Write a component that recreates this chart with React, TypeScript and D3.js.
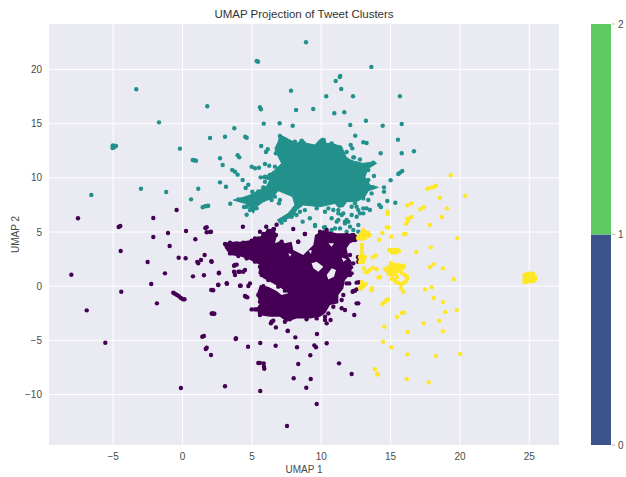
import React from "react";
import * as d3 from "d3";

const xDomain = [-9.63, 27.14];
const yDomain = [-14.66, 24.21];
const xTicks = [-5, 0, 5, 10, 15, 20, 25];
const yTicks = [-10, -5, 0, 5, 10, 15, 20];
const cbarTicks = [0, 1, 2];
const cbarColors = ["#3b528b", "#5ec962"];
const clusterColors = ["#440154", "#21918c", "#fde725"];

type P = [number, number];

// Outline of the solid core of cluster 1
const tealCore: P[] = [[5.58,10.05],[6.18,10.27],[6.66,10.73],[7.14,11.34],[6.78,12.27],[6.66,12.73],[6.9,13.35],[7.02,13.96],[7.38,13.75],[7.74,13.5],[8.22,13.19],[8.7,13.5],[8.94,13.19],[9.54,13.04],[9.91,13.56],[10.27,13.65],[10.34,13.19],[10.75,13.19],[11.11,13.04],[11.47,12.88],[11.83,11.81],[12.43,11.5],[13.03,11.34],[13.87,11.5],[13.99,11.34],[13.39,10.88],[13.15,10.11],[13.51,9.34],[14.11,9.13],[13.39,8.82],[13.15,8.27],[12.55,7.81],[11.83,7.81],[11.59,7.34],[11.23,7.28],[10.99,7.65],[9.91,7.34],[8.7,7.5],[8.22,7.04],[7.98,6.42],[7.26,6.11],[6.83,6.11],[7.62,6.73],[8.1,7.5],[7.93,8.27],[7.38,8.57],[6.9,8.82],[6.42,8.11],[5.82,7.81],[5.34,7.34],[5.1,6.73],[4.86,7.19],[4.5,7.65],[3.66,7.96],[4.38,8.21],[4.86,8.42],[5.58,8.88],[6.06,9.25],[6.3,9.81]];

// Outline and gaps of the solid core of cluster 0
const purpleCore: P[] = [[2.94,3.96],[3.42,4.11],[4.14,4.11],[4.98,4.27],[5.34,4.42],[5.58,4.57],[5.94,5.04],[6.42,5.34],[6.66,5.19],[6.78,4.57],[6.66,3.96],[7.14,4.21],[7.38,3.96],[7.86,4.11],[7.98,3.34],[8.7,2.88],[9.19,3.5],[9.43,3.8],[9.55,4.73],[10.15,5.19],[11.11,4.88],[11.83,4.88],[12.55,4.73],[12.67,4.27],[12.07,3.96],[11.83,3.5],[11.95,2.73],[12.19,2.26],[12.19,1.5],[12.07,1.03],[11.71,0.57],[11.59,-0.2],[11.23,-0.81],[11.23,-1.58],[10.63,-1.74],[10.27,-2.51],[9.91,-2.81],[9.19,-2.97],[8.22,-2.97],[7.5,-3.28],[7.02,-2.81],[6.3,-2.81],[5.46,-2.66],[5.34,-2.04],[5.58,-1.58],[5.34,-0.81],[5.58,0.11],[6.18,-0.04],[6.78,-0.44],[7.14,-0.81],[7.62,-0.66],[7.14,-0.2],[6.54,0.26],[5.82,0.73],[5.46,1.19],[5.58,1.96],[4.86,2.42],[4.26,2.73],[3.42,2.88],[3.06,3.5]];
const purpleGaps: P[][] = [
  [[9.3,2.11],[9.67,2.27],[10.15,1.8],[9.79,1.34],[9.43,1.65]],
  [[10.39,1.03],[10.75,1.65],[11.06,1.5],[10.92,0.88],[10.51,0.63]],
  [[9.07,3.28],[9.31,3.34],[9.26,2.97]],
  [[10.51,3.96],[10.92,3.96],[10.75,3.65]],
  [[11.47,2.66],[11.83,2.48],[11.59,2.26]],
  [[7.62,3.03],[7.86,2.97],[7.74,2.73]],
];

const tealEdge: P[] = [[7.02,13.87],[7.21,13.5],[7.02,13.04],[6.83,12.58],[6.73,12.27],[7.14,11.96],[7.55,13.35],[7.74,13.19],[8.1,13.35],[8.58,13.44],[8.46,12.88],[9.79,13.04],[10.1,13.5],[10.19,13.04],[9.95,12.64],[10.75,13.19],[10.87,12.73],[10.51,12.27],[11.35,12.82],[11.54,12.27],[11.11,12.11],[11.95,11.5],[12.55,11.34],[13.15,11.19],[13.75,11.41],[13.39,10.73],[12.79,11.71],[11.83,11.71],[12.31,11.9],[5.63,10.05],[5.94,10.11],[6.3,10.27],[6.66,11.04],[5.94,9.65],[6.3,9.34],[5.82,9.13],[6.18,8.42],[5.82,7.96],[5.22,7.65],[4.86,7.04],[4.62,7.34],[4.14,7.96],[4.02,8.02],[4.98,8.27],[5.34,8.27],[5.58,8.42],[6.66,8.27],[6.95,7.65],[6.42,7.96],[7.02,7.96],[13.39,9.81],[13.75,9.13],[13.27,8.88],[13.63,8.57],[13.03,8.11],[12.43,7.65],[13.39,7.96],[12.55,7.34],[11.23,7.03],[11.59,6.73],[12.19,7.34],[12.67,7.03],[13.27,7.19],[13.03,6.73],[11.23,6.11],[11.83,6.11],[8.46,6.88],[8.22,6.57],[7.86,6.42],[7.38,6.11],[7.02,6.05],[8.82,7.03],[9.67,7.19],[10.27,6.88],[10.51,7.19]];

const purpleEdge: P[] = [[3.06,3.9],[3.42,4.02],[3.9,3.96],[4.38,4.02],[4.98,4.2],[5.46,4.42],[5.82,4.82],[6.18,5.13],[6.54,5.25],[6.73,4.73],[7.14,4.11],[8.34,4.11],[8.82,4.82],[9.91,5.03],[10.39,5.19],[11.83,4.73],[12.31,4.73],[12.43,4.27],[3.42,3.03],[4.02,2.79],[4.62,2.57],[5.22,2.27],[5.58,1.8],[5.7,1.03],[6.18,0.57],[6.9,-0.04],[7.38,-0.41],[5.82,0],[5.46,-0.81],[5.58,-1.43],[5.34,-2.14],[5.58,-2.66],[6.42,-3.28],[7.38,-3.28],[7.74,-3.06],[8.94,-3.06],[9.67,-2.97],[10.27,-2.81],[10.51,-2.51],[10.87,-1.89],[11.47,-1.27],[11.59,-0.81],[11.83,0.26],[12.19,1.19],[12.31,2.11],[12.07,2.88]];

const tealPoints: P[] = [[-3.34,18.18],[-1.7,15.13],[1.78,16.61],[1.98,13.68],[-0.19,12.7],[-5.04,12.95],[-4.95,12.81],[-4.84,12.95],[-5.02,12.99],[-5.05,12.76],[-4.8,12.95],[0.73,11.65],[0.84,11.63],[0.97,11.59],[2.7,11.81],[-6.58,8.42],[-3,9],[-1.18,8.7],[1.13,9],[2.7,9.59],[0.61,8.02],[1.45,7.29],[1.62,7.38],[1.76,7.41],[1.85,7.43],[5.58,16.52],[5.65,16.34],[8.18,16.27],[9.42,16.36],[10.94,15.97],[11.66,16.06],[5.85,15.01],[7,15.04],[7.94,14.82],[12.09,14.89],[13.22,15.28],[14.43,14.82],[15.8,14.98],[3.73,14.58],[3.06,13.8],[4.52,13.8],[4.62,13.71],[12.45,13.9],[15.53,13.53],[13.03,13.29],[13.27,13.22],[12.12,13.04],[12.24,12.73],[11.83,12.39],[14.28,12.27],[15.8,12.27],[16.68,12.46],[5.67,12.95],[6.14,12.64],[6.01,12.39],[3.97,12.09],[4.09,11.9],[2.89,11.19],[12.36,11.9],[4.98,11.03],[5.22,10.89],[5.51,10.94],[5.94,11.28],[6.25,11.13],[3.58,10.73],[3.78,10.57],[3.97,10.3],[4.33,9.81],[3.13,9.19],[4.74,9.37],[4.55,9.07],[5.46,8.76],[5.03,8.73],[13.8,10.18],[15.67,10.48],[15.84,10.64],[15.55,10.36],[15,9.78],[14.52,9.13],[14.52,8.73],[15.34,7.71],[14.76,7.87],[14.18,7.5],[14.3,7.31],[3.44,7.62],[4.43,7.31],[4.62,6.6],[4.86,7.8],[5.1,7.5],[5.34,7.19],[8.9,22.52],[5.34,20.8],[5.44,20.73],[13.61,20.24],[11.37,19.41],[11.33,19.32],[11.04,18.95],[11.44,18.21],[7.82,18.05],[10.36,17.54],[12.29,17.54],[15.67,17.54],[9.18,6.27],[9.55,5.65],[10.19,5.43],[10.87,7.04],[10.75,6.27],[11.11,5.96],[11.47,6.57],[11.71,5.8],[12.19,6.57],[12.55,6.42],[12.79,6.73],[13.03,7.19],[13.51,7.04],[12.07,5.5],[11.35,5.34],[10.99,5.34],[12.67,5.65],[11.95,5.96],[11.23,6.73],[7.14,5.87],[8.66,5.96],[9.55,5.56],[10.27,5.44],[10.75,5.19],[12.31,5.19],[12.67,5.04],[11.83,5.04],[11.71,5.96]];

const purplePoints: P[] = [[-8.02,1.06],[-6.91,-2.23],[-5.57,-5.22],[-4.42,-0.51],[-4.46,3.25],[-2.52,2.23],[-1.27,1.19],[-2.26,0.2],[-1.85,-1.58],[-0.93,3.71],[-0.28,2.63],[0.22,2.58],[1.06,2.25],[1.13,2.11],[1.33,2.42],[1.59,2.88],[2.07,2.3],[0.75,0.91],[1.54,1.01],[2.62,1.19],[2.07,-0.35],[2.21,-0.38],[2.57,0.14],[3.2,0.23],[4.14,0.05],[3.71,1.89],[3.9,1.99],[3.78,1.03],[4.02,1.34],[-0.67,-0.6],[-0.55,-0.69],[-0.4,-0.81],[-0.26,-0.93],[-0.12,-1.09],[0.03,-1.21],[0.14,-1.21],[2.14,-2.54],[2.29,-2.54],[1.42,-4.66],[1.54,-4.6],[1.67,-5.8],[1.74,-5.68],[2.05,-6.35],[3.83,-4.88],[-0.12,-9.4],[3.06,-9.24],[0.92,4.33],[-7.54,6.27],[-4.61,5.47],[-4.49,5.56],[-2.11,6.3],[-0.43,7.04],[-1.05,4.91],[0.25,5.1],[1.64,5.37],[1.74,5.44],[1.74,4.98],[1.98,5],[-2.11,4.54],[4.35,5.49],[6.03,5.49],[6.78,5.68],[6.59,5.28],[7.98,5.28],[2.05,5.03],[5.22,4.42],[5.58,5.03],[8.82,4.82],[8.34,4.11],[2.1,2.26],[2.62,1.25],[2.58,0.11],[3.18,0.27],[4.19,0.05],[2.17,-0.35],[4.86,0.26],[4.74,0.02],[3.78,1.96],[3.71,1.34],[4.14,1.34],[4.38,1.34],[4.5,1.5],[4.57,-0.97],[4.5,-0.9],[4.67,-1.03],[2.22,-2.51],[2.1,-2.51],[4.98,-2.14],[5.22,-2.14],[12.38,-2.66],[12.55,-1.58],[12.67,-1.58],[11.71,-2.2],[11.47,-2.04],[12.31,-0.44],[12.55,-0.29],[12.02,0.26],[12.55,0.33],[12.67,2.67],[12.67,2.26],[6.37,-3.43],[6.54,-3.18],[6.73,-3.8],[7.58,-4.11],[8.13,-4.72],[9.69,-4.41],[10.67,-3.12],[10.39,-3.43],[10.27,-3.12],[3.85,-4.81],[4.72,-5.59],[5.6,-5.24],[6.71,-5.49],[7.58,-4.14],[8.25,-5.64],[9.5,-5.46],[9.62,-5.64],[10.39,-5.27],[9.21,-6.38],[5.46,-7.09],[5.58,-7.09],[5.85,-7.12],[5.87,-7.43],[5.89,-7.62],[8.34,-7.18],[11.28,-7.12],[12.19,-8.11],[8.01,-8.5],[9.24,-8.57],[8.92,-9.37],[5.6,-9.68],[9.67,-10.88],[7.53,-12.91],[12.72,0.36],[12.26,-0.51],[12.43,-0.42],[12.84,-0.17],[12.14,1.75],[12.07,1.03],[12.65,2.67],[12.26,4.48],[12.4,4.6],[12.2,4.7],[12.35,4.3]];

const yellowPoints: P[] = [[19.33,10.24],[17.64,9],[17.91,9.1],[18.13,9.16],[18.27,9.28],[18.56,8.17],[20.38,8.36],[16.2,7.47],[16.49,7.65],[17.14,7.1],[17.38,7.29],[19.06,7.19],[14.79,6.88],[14.79,6.67],[18.68,6.39],[16.49,6.39],[16.2,6.23],[16.27,6.05],[16.11,5.77],[17.82,5.65],[14.72,5.44],[14.85,5.42],[14.4,4.91],[15.96,4.82],[16.07,4.82],[15.05,4.57],[19.81,4.42],[14.18,4.29],[17.89,3.59],[14.9,3.34],[15.1,3.34],[15.31,3.34],[15.53,3.34],[15.1,3.11],[15.39,3.11],[15.6,3.25],[16.85,3.16],[13.92,2.85],[13.71,2.67],[18.08,2.02],[17.84,1.77],[18.77,1.65],[13.06,1.65],[13.71,1.71],[13.99,1.56],[13.32,1.34],[13.2,1.28],[13.46,1.5],[19.55,0.64],[14.25,0.85],[14.12,0.8],[13.66,-0.19],[13.63,-0.35],[17.48,-0.29],[17.96,-0.1],[15.75,-0.19],[15.91,-0.51],[18.1,-1.09],[18.77,-1.46],[14.59,-1.46],[14.4,-1.64],[14.64,-1.34],[14.81,-1.23],[19.76,-2.2],[18.94,-2.38],[15.82,-2.47],[15.96,-2.43],[15.46,-2.84],[18.49,-3.19],[17.38,-3.43],[14.54,-3.74],[16.23,-4.23],[18.77,-4.16],[14.45,-5.12],[15.05,-5.64],[16.2,-6.29],[18.27,-6.45],[20.02,-6.26],[13.87,-7.67],[14.04,-8.11],[14.09,-8.15],[16.16,-8.57],[17.74,-8.87],
[24.65,1.03],[24.65,0.66],[24.65,0.39],[24.83,1.13],[24.83,0.76],[24.83,0.39],[25.05,1.17],[25.05,0.85],[25.05,0.48],[25.27,1.13],[25.27,0.76],[25.27,0.48],[25.41,0.85],[25.41,0.62],
[14.59,1.59],[14.74,1.4],[14.88,1.77],[14.88,1.4],[14.88,1.13],[15.03,2.14],[15.1,1.87],[15.1,1.59],[15.1,1.31],[15.1,1.03],[15.31,1.96],[15.31,1.68],[15.31,1.4],[15.31,1.13],[15.53,1.96],[15.53,1.68],[15.53,1.4],[15.75,1.87],[15.75,1.59],[15.89,1.91],[15.96,1.77],[15.46,0.85],[15.31,0.57],[15.39,0.39],[15.53,0.3],[15.75,0.2],[15.96,0.3],[16.18,0.66],[16.18,0.85],[16.03,1.03],[15.82,1.22],[15.1,0.66],[16.11,0.48],
[12.72,4.64],[12.86,4.82],[12.86,4.54],[13.01,5.19],[13.01,4.91],[13.01,4.64],[13.15,5],[13.15,4.73],[13.15,4.45],[13.37,4.91],[13.37,4.64],[13.51,4.73],[12.65,4.45],[12.86,4.36],[12.93,3.8],[12.93,3.53],
[12.93,3.16],[12.93,2.88],[12.79,2.7],[13.01,2.6],[12.86,2.42],[13.08,2.51],[13.15,2.7],[12.79,2.23],[13.01,2.23],
[12.93,0.39],[12.93,0.11],[13.08,0.02],[13.22,0.2],[12.93,-0.17],[12.79,-0.17]];

const W = 626, H = 477;
const plot = { l: 49, r: 559, t: 24, b: 445 };
const cbar = { l: 591, r: 611, t: 24, b: 445 };
const font = "'Liberation Sans', Arial, sans-serif";
const textColor = "#4a4a4a";

export default function App() {
  const x = d3.scaleLinear().domain(xDomain).range([plot.l, plot.r]);
  const y = d3.scaleLinear().domain(yDomain).range([plot.b, plot.t]);
  const c = d3.scaleLinear().domain([0, 2]).range([cbar.b, cbar.t]);
  const line = d3.line<P>().x(d => x(d[0])).y(d => y(d[1])).curve(d3.curveLinearClosed);
  const purplePath = [purpleCore, ...purpleGaps].map(s => line(s)).join(" ");
  const minus = (v: number) => String(v).replace("-", "\u2212");
  const dots = (pts: P[], fill: string) =>
    pts.map((p, i) => <circle key={i} cx={x(p[0])} cy={y(p[1])} r={2.2} fill={fill} />);

  return (
    <svg width={W} height={H} viewBox={`0 0 ${W} ${H}`}
      style={{ position: "absolute", left: 0, top: 0, background: "#fff", fontFamily: font }}>
      <defs>
        <filter id="soft" x="0" y="0" width="1" height="1"><feGaussianBlur stdDeviation="0.35" /></filter>
      </defs>
      <rect x={plot.l} y={plot.t} width={plot.r - plot.l} height={plot.b - plot.t} fill="#eaeaf2" />
      {xTicks.map(t => <line key={t} x1={x(t)} x2={x(t)} y1={plot.t} y2={plot.b} stroke="#fff" strokeWidth={1} />)}
      {yTicks.map(t => <line key={t} x1={plot.l} x2={plot.r} y1={y(t)} y2={y(t)} stroke="#fff" strokeWidth={1} />)}

      <g filter="url(#soft)">
        <path d={line(tealCore) ?? ""} fill={clusterColors[1]} stroke={clusterColors[1]} strokeWidth={1} strokeLinejoin="round" />
        {dots(tealEdge, clusterColors[1])}
        {dots(tealPoints, clusterColors[1])}
        <path d={purplePath} fill={clusterColors[0]} fillRule="evenodd" />
        {dots(purpleEdge, clusterColors[0])}
        {dots(purplePoints, clusterColors[0])}
        {dots(yellowPoints, clusterColors[2])}
      </g>

      {xTicks.map(t => (
        <text key={t} x={x(t)} y={plot.b + 15} textAnchor="middle" fontSize={10} fill={textColor}>{minus(t)}</text>
      ))}
      {yTicks.map(t => (
        <text key={t} x={plot.l - 7} y={y(t) + 3.5} textAnchor="end" fontSize={10} fill={textColor}>{minus(t)}</text>
      ))}
      <text x={(plot.l + plot.r) / 2} y={18} textAnchor="middle" fontSize={11.5} fill="#333">UMAP Projection of Tweet Clusters</text>
      <text x={(plot.l + plot.r) / 2} y={473} textAnchor="middle" fontSize={10} fill={textColor}>UMAP 1</text>
      <text transform={`translate(19,${(plot.t + plot.b) / 2}) rotate(-90)`} textAnchor="middle" fontSize={10} fill={textColor}>UMAP 2</text>

      {cbarColors.map((col, i) => (
        <rect key={i} x={cbar.l} width={cbar.r - cbar.l} y={c(i + 1)} height={c(i) - c(i + 1)} fill={col} />
      ))}
      {cbarTicks.map(t => (
        <g key={t}>
          <line x1={cbar.r + 1} x2={cbar.r + 4} y1={c(t)} y2={c(t)} stroke="#bbb" strokeWidth={1} />
          <text x={cbar.r + 7} y={c(t) + 3.5} fontSize={10} fill={textColor}>{t}</text>
        </g>
      ))}
    </svg>
  );
}
